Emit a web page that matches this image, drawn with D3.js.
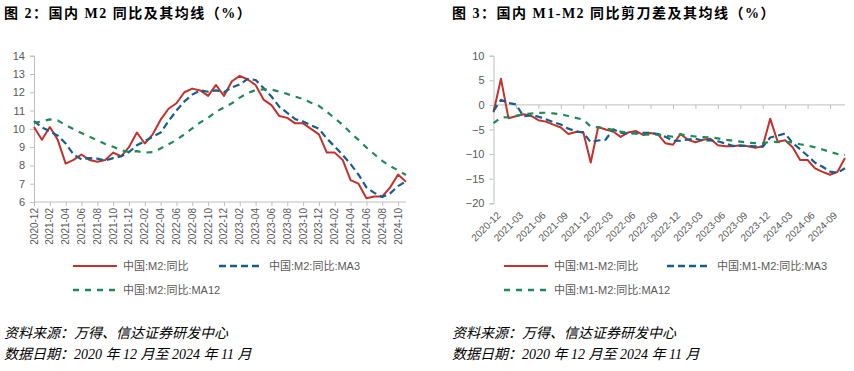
<!DOCTYPE html>
<html>
<head>
<meta charset="utf-8">
<script src="https://cdn.jsdelivr.net/npm/d3@7"></script>
<style>
  body { margin: 0; background: #fff; }
  svg text { font-family: "Liberation Sans", "Noto Sans CJK SC", sans-serif; }
  .title { font-family: "Liberation Serif", "Noto Sans CJK SC", serif; font-weight: bold; font-size: 14px; letter-spacing: 1.5px; fill: #000; }
  .foot { font-family: "Liberation Serif", "Noto Sans CJK SC", serif; font-style: italic; font-size: 14px; fill: #000; }
</style>
</head>
<body>
<div id="chart"></div>
<script>
// months shared by both panels
var months = ["2020-12","2021-01","2021-02","2021-03","2021-04","2021-05","2021-06","2021-07","2021-08","2021-09","2021-10","2021-11",
  "2021-12","2022-01","2022-02","2022-03","2022-04","2022-05","2022-06","2022-07","2022-08","2022-09","2022-10","2022-11",
  "2022-12","2023-01","2023-02","2023-03","2023-04","2023-05","2023-06","2023-07","2023-08","2023-09","2023-10","2023-11",
  "2023-12","2024-01","2024-02","2024-03","2024-04","2024-05","2024-06","2024-07","2024-08","2024-09","2024-10","2024-11"];

// fig 2: M2 yoy and moving averages
var m2 = [10.1,9.4,10.1,9.4,8.1,8.3,8.6,8.3,8.2,8.3,8.7,8.5,
  9.0,9.8,9.2,9.7,10.5,11.1,11.4,12.0,12.2,12.1,11.8,12.4,
  11.8,12.6,12.9,12.7,12.4,11.6,11.3,10.7,10.6,10.3,10.3,10.0,
  9.7,8.7,8.7,8.3,7.2,7.0,6.2,6.3,6.3,6.8,7.5,7.1];
var m2Ma3 = [10.43,10.07,9.87,9.63,9.2,8.6,8.33,8.4,8.37,8.27,8.4,8.5,
  8.73,9.1,9.33,9.57,9.8,10.43,11.0,11.5,11.87,12.1,12.03,12.1,
  12.0,12.27,12.43,12.73,12.67,12.23,11.77,11.2,10.87,10.53,10.4,10.2,
  10.0,9.47,9.03,8.57,8.07,7.5,6.8,6.5,6.27,6.47,6.87,7.13];
var m2Ma12 = [10.33,10.41,10.52,10.46,10.21,9.98,9.77,9.57,9.38,9.17,9.02,8.83,
  8.74,8.78,8.7,8.73,8.93,9.16,9.39,9.7,10.03,10.35,10.61,10.93,
  11.17,11.4,11.71,11.96,12.12,12.16,12.15,12.04,11.91,11.76,11.63,11.43,
  11.26,10.93,10.58,10.22,9.78,9.4,8.98,8.61,8.25,7.96,7.73,7.48];

// fig 3: M1-M2 scissors and moving averages
var gap = [-1.5,5.3,-2.7,-2.3,-1.9,-2.2,-3.1,-3.4,-4.0,-4.6,-5.9,-5.5,
  -5.5,-11.7,-4.5,-5.0,-5.4,-6.5,-5.6,-5.3,-6.1,-5.7,-6.0,-7.8,
  -8.1,-5.9,-7.1,-7.6,-7.1,-6.9,-8.2,-8.4,-8.4,-8.2,-8.4,-8.7,
  -8.4,-2.8,-7.5,-7.2,-8.6,-11.2,-11.2,-12.9,-13.6,-14.2,-13.6,-10.8];
var gapMa3 = [-1.2,1.03,0.37,0.1,-2.3,-2.13,-2.4,-2.9,-3.5,-4.0,-4.83,-5.33,
  -5.63,-7.57,-7.23,-7.07,-4.97,-5.63,-5.83,-5.8,-5.67,-5.7,-5.93,-6.5,
  -7.3,-7.27,-7.03,-6.87,-7.27,-7.2,-7.4,-7.83,-8.33,-8.33,-8.33,-8.43,
  -8.5,-6.63,-6.23,-5.83,-7.77,-9.0,-10.33,-11.77,-12.57,-13.57,-13.8,-12.87];
var gapMa12 = [-3.72,-2.58,-2.47,-2.23,-1.93,-1.75,-1.63,-1.59,-1.73,-1.88,-2.25,-2.65,
  -2.98,-4.4,-4.55,-4.78,-5.07,-5.43,-5.63,-5.79,-5.97,-6.06,-6.07,-6.26,
  -6.48,-5.99,-6.21,-6.43,-6.57,-6.6,-6.82,-7.08,-7.27,-7.48,-7.68,-7.75,
  -7.78,-7.52,-7.55,-7.52,-7.64,-8.0,-8.25,-8.63,-9.06,-9.56,-9.99,-10.17];

var red = "#c4312b", blue = "#175e8c", green = "#1d8a58", axisCol = "#bfbfbf", txt = "#595959";

var svg = d3.select("#chart").append("svg").attr("width", 854).attr("height", 371);

function panel(o) {
  var g = svg.append("g");
  var x = d3.scalePoint().domain(months).range([o.x0, o.x1]);
  var y = d3.scaleLinear().domain(o.yDomain).range([o.yBottom, o.yTop]);

  g.append("text").attr("class", "title").attr("x", o.titleX).attr("y", 18).text(o.title);

  // y axis
  var ya = d3.axisLeft(y).tickValues(o.yTicks).tickSize(4).tickPadding(5);
  var yg = g.append("g").attr("transform", "translate(" + o.x0 + ",0)").call(ya);
  yg.select(".domain").attr("stroke", axisCol);
  yg.selectAll(".tick line").attr("stroke", axisCol);
  yg.selectAll(".tick text").attr("fill", txt).style("font-size", "11px");

  // x axis at the crossing value
  var tickMonths = months.filter(function (d, i) { return i % o.every === 0; });
  var xa = d3.axisBottom(x).tickValues(tickMonths).tickSize(4).tickFormat("");
  var xg = g.append("g").attr("transform", "translate(0," + y(o.yCross) + ")").call(xa);
  xg.select(".domain").attr("stroke", axisCol).attr("d", "M" + o.x0 + ",0H" + o.x1);
  xg.selectAll(".tick line").attr("stroke", axisCol);

  // tick labels
  g.selectAll(".xl").data(tickMonths).enter().append("text")
    .attr("transform", function (d) {
      return "translate(" + (x(d) + o.labDx) + "," + o.labY + ") rotate(" + o.rot + ")";
    })
    .attr("text-anchor", "end")
    .attr("dy", o.labDy)
    .attr("fill", txt)
    .style("font-size", "10px")
    .text(function (d) { return d; });

  var line = d3.line().x(function (d, i) { return x(months[i]); }).y(function (d) { return y(d); });

  o.series.forEach(function (s) {
    g.append("path").datum(s.values).attr("d", line)
      .attr("fill", "none").attr("stroke", s.color).attr("stroke-width", s.dash ? 2.2 : 2)
      .attr("stroke-dasharray", s.dash || null).attr("stroke-linejoin", "round");
  });

  // legend
  o.series.forEach(function (s, i) {
    var lx = o.legend[i][0], ly = o.legend[i][1];
    g.append("line").attr("x1", lx).attr("x2", lx + 44).attr("y1", ly).attr("y2", ly)
      .attr("stroke", s.color).attr("stroke-width", s.dash ? 2.5 : 2).attr("stroke-dasharray", s.dash || null);
    g.append("text").attr("x", lx + 50).attr("y", ly + 4).attr("fill", txt)
      .style("font-size", "11px").text(s.name);
  });

  g.append("text").attr("class", "foot").attr("x", o.titleX).attr("y", 338).text("资料来源：万得、信达证券研发中心");
  g.append("text").attr("class", "foot").attr("x", o.titleX).attr("y", 359).text("数据日期：2020 年 12 月至 2024 年 11 月");
}

panel({
  title: "图 2：国内 M2 同比及其均线（%）", titleX: 4,
  x0: 34, x1: 406, yTop: 55.7, yBottom: 202, yDomain: [6, 14], yTicks: d3.range(6, 15, 1), yCross: 6,
  every: 2, rot: -90, labDx: 0, labY: 208, labDy: "0.35em",
  series: [
    {name: "中国:M2:同比", values: m2, color: red},
    {name: "中国:M2:同比:MA3", values: m2Ma3, color: blue, dash: "7,4"},
    {name: "中国:M2:同比:MA12", values: m2Ma12, color: green, dash: "6,6"}
  ],
  legend: [[73, 266], [219, 266], [73, 290]]
});

panel({
  title: "图 3：国内 M1-M2 同比剪刀差及其均线（%）", titleX: 452,
  x0: 493.5, x1: 845, yTop: 55.7, yBottom: 203.3, yDomain: [-20, 10], yTicks: d3.range(-20, 11, 5), yCross: 0,
  every: 3, rot: -45, labDx: 3, labY: 211, labDy: "0.7em",
  series: [
    {name: "中国:M1-M2:同比", values: gap, color: red},
    {name: "中国:M1-M2:同比:MA3", values: gapMa3, color: blue, dash: "7,4"},
    {name: "中国:M1-M2:同比:MA12", values: gapMa12, color: green, dash: "6,6"}
  ],
  legend: [[504, 266], [667, 266], [504, 290]]
});
</script>
</body>
</html>
